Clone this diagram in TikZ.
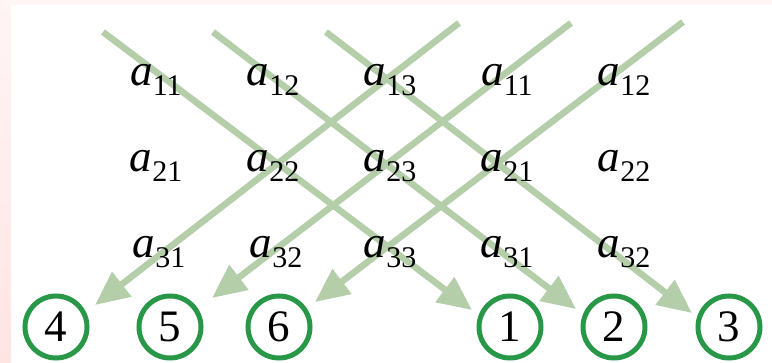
\documentclass[tikz,border=0pt]{standalone}
\usepackage{fontspec}
\setmainfont{Liberation Serif}
\usetikzlibrary{arrows.meta}
\definecolor{linegreen}{RGB}{180,206,170}
\definecolor{ringgreen}{RGB}{40,152,72}
\definecolor{pinkA}{RGB}{255,245,245}
\definecolor{pinkB}{RGB}{255,228,228}
\tikzset{
  diag/.style={draw=linegreen, line width=6.5pt, -{Triangle[length=34pt,width=30pt]}},
  elem/.style={inner sep=0pt, font=\fontsize{45}{45}\selectfont},
  ring/.style={circle, draw=ringgreen, line width=5pt, minimum size=62pt, inner sep=0pt, font=\fontsize{45}{45}\selectfont}
}
\newcommand{\elt}[1]{\textit{a}\raisebox{-10pt}{\fontsize{30}{30}\selectfont #1}}
\begin{document}
\begin{tikzpicture}[x=1pt,y=-1pt]
\useasboundingbox (0,0) rectangle (772,363);
\shade[top color=pinkA, bottom color=pinkB] (0,0) rectangle (11,363);
\fill[pinkA] (11,0) rectangle (772,5);
\fill[white] (11,5) rectangle (772,363);
% line ends
\coordinate (s1) at (103,32);  \coordinate (t1) at (472,310);
\coordinate (s2) at (213,32);  \coordinate (t2) at (576,309);
\coordinate (s3) at (326,32);  \coordinate (t3) at (692,313);
\coordinate (s4) at (459,23);  \coordinate (t4) at (95,305);
\coordinate (s5) at (571,23);  \coordinate (t5) at (212,298);
\coordinate (s6) at (683,22);  \coordinate (t6) at (315,302);
\draw[diag] (s1) -- (t1);
\draw[diag] (s2) -- (t2);
\draw[diag] (s3) -- (t3);
\draw[diag] (s4) -- (t4);
\draw[diag] (s5) -- (t5);
\draw[diag] (s6) -- (t6);
% matrix elements
\node[elem] (e11) at (156,80) {\elt{11}};
\node[elem] (e12) at (273,80) {\elt{12}};
\node[elem] (e13) at (390,80) {\elt{13}};
\node[elem] (e14) at (507,80) {\elt{11}};
\node[elem] (e15) at (624,80) {\elt{12}};
\node[elem] (e21) at (156,166) {\elt{21}};
\node[elem] (e22) at (273,166) {\elt{22}};
\node[elem] (e23) at (390,166) {\elt{23}};
\node[elem] (e24) at (507,166) {\elt{21}};
\node[elem] (e25) at (624,166) {\elt{22}};
\node[elem] (e31) at (159,252) {\elt{31}};
\node[elem] (e32) at (276,252) {\elt{32}};
\node[elem] (e33) at (390,252) {\elt{33}};
\node[elem] (e34) at (507,252) {\elt{31}};
\node[elem] (e35) at (624,252) {\elt{32}};
% rings
\node[ring] (c4) at (56,327) {4};
\node[ring] (c5) at (170,327) {5};
\node[ring] (c6) at (279,327) {6};
\node[ring] (c1) at (510,327) {1};
\node[ring] (c2) at (614,327) {2};
\node[ring] (c3) at (729,327) {3};
\end{tikzpicture}
\end{document}
